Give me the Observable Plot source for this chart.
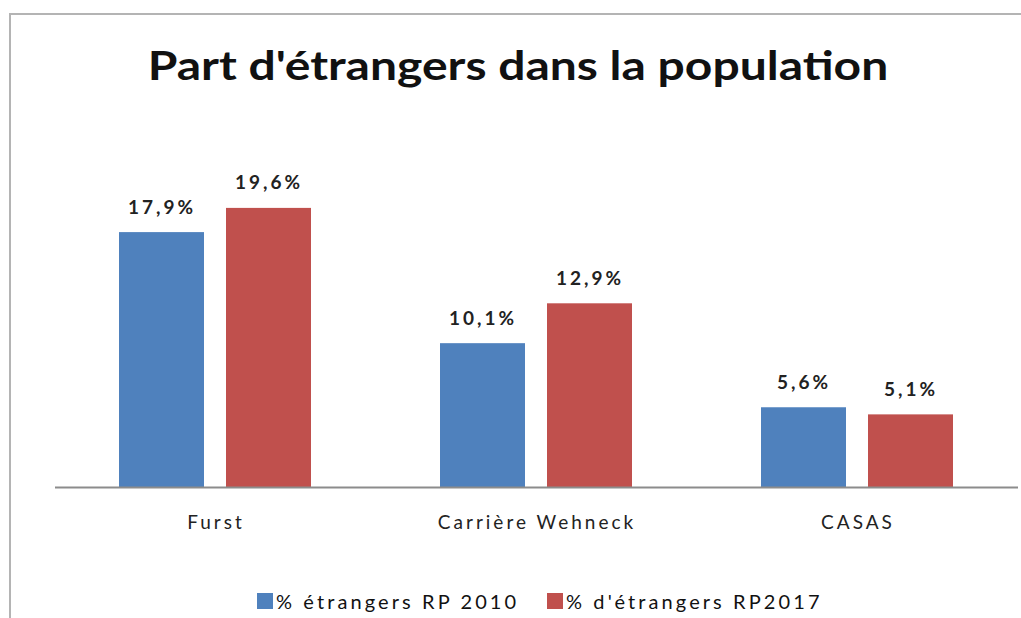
<!DOCTYPE html>
<html>
<head>
<meta charset="utf-8">
<script src="https://cdn.jsdelivr.net/npm/d3@7"></script>
<script src="https://cdn.jsdelivr.net/npm/@observablehq/plot@0.6"></script>
<style>
  html, body { margin: 0; padding: 0; background: #fff; width: 1021px; height: 618px; overflow: hidden; }
  body { position: relative; font-family: Lato, "Open Sans", sans-serif; }
  #frame { position: absolute; left: 9px; top: 13px; width: 1100px; height: 700px; border: 2px solid #b4b4b4; box-sizing: border-box; }
  #title { position: absolute; left: 0; width: 1036px; top: 35px; text-align: center; font-size: 40px; font-weight: bold; color: #111; line-height: 60px; white-space: nowrap; transform: scaleX(1.2); transform-origin: 518px 30px; }
  #chart { position: absolute; left: 0; top: 120px; }
  #legend { position: absolute; left: 0; top: 586px; width: 1021px; height: 30px; font-size: 20px; color: #111; letter-spacing: 3.1px; }
  .item { position: absolute; top: 0; display: flex; align-items: center; height: 30px; white-space: nowrap; }
  .sw { width: 16px; height: 16px; margin-right: 3px; display: inline-block; }
</style>
</head>
<body>
<div id="frame"></div>
<div id="title">Part d'étrangers dans la population</div>
<div id="chart"></div>
<div id="legend"></div>
<script>
const categories = ["Furst", "Carrière Wehneck", "CASAS"];
const series = ["% étrangers RP 2010", "% d'étrangers RP2017"];
const values2010 = [17.9, 10.1, 5.6];
const values2017 = [19.6, 12.9, 5.1];
const colors = ["#4F81BD", "#C0504D"];

const data = [];
categories.forEach((c, i) => {
  data.push({cat: c, series: series[0], value: values2010[i]});
  data.push({cat: c, series: series[1], value: values2017[i]});
});
const fmt = v => v.toFixed(1).replace(".", ",") + "%";

const chart = Plot.plot({
  width: 1021,
  height: 430,
  marginLeft: 55,
  marginRight: 3,
  marginTop: 11,
  marginBottom: 63,
  style: {fontSize: "19px", fontFamily: "Lato, 'Open Sans', sans-serif", color: "#222", background: "transparent", letterSpacing: "3px"},
  fx: {domain: categories, padding: 0, label: null, axis: "bottom", tickSize: 0, tickPadding: 28},
  x: {domain: series, paddingInner: 0.2056, paddingOuter: 0.6028, axis: null},
  y: {domain: [0, 25], axis: null},
  color: {domain: series, range: colors},
  marks: [
    Plot.barY(data, {fx: "cat", x: "series", y: "value", fill: "series"}),
    Plot.ruleY([0], {stroke: "#8c8c8c", strokeWidth: 2}),
    Plot.text(data, {fx: "cat", x: "series", y: "value", text: d => fmt(d.value), dy: -19, lineAnchor: "bottom", fontWeight: "bold", fontSize: 19, fill: "#222"})
  ]
});
document.getElementById("chart").appendChild(chart);

const legend = document.getElementById("legend");
const lx = [257, 547];
series.forEach((s, i) => {
  const it = document.createElement("div");
  it.className = "item";
  it.style.left = lx[i] + "px";
  const sw = document.createElement("span");
  sw.className = "sw";
  sw.style.background = colors[i];
  it.appendChild(sw);
  it.appendChild(document.createTextNode(s));
  legend.appendChild(it);
});
</script>
</body>
</html>
